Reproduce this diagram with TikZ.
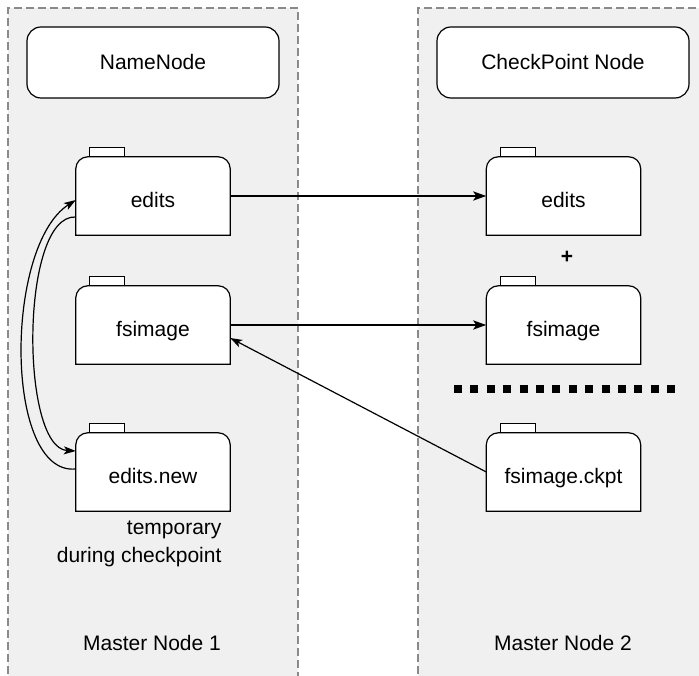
\documentclass[tikz,border=0pt]{standalone}
\usepackage{fontspec}
\setmainfont{Liberation Sans}
\usetikzlibrary{arrows.meta,backgrounds}
\definecolor{panelfill}{HTML}{F0F0F0}
\definecolor{panelline}{HTML}{8A8A8A}
\newcommand\fileshape[1]{%
  \draw[fileline] (#1.south west) -- ([yshift=-12pt]#1.north west)
    arc[start angle=180,end angle=90,radius=12pt] -- ([xshift=-12pt]#1.north east)
    arc[start angle=90,end angle=0,radius=12pt] -- (#1.south east) -- cycle;
  \draw[fileline] ([xshift=14pt]#1.north west) rectangle ([xshift=49pt,yshift=9pt]#1.north west);
}
\begin{document}
\begin{tikzpicture}[x=1pt,y=1pt,
  every node/.style={font=\fontsize{21}{28}\selectfont},
  panelborder/.style={panelline, line width=1.3pt, dash pattern=on 8pt off 4pt},
  hostbox/.style={draw, fill=white, line width=1.2pt, rounded corners=14pt, minimum width=252pt, minimum height=71pt, inner sep=0pt},
  file/.style={minimum width=154pt, minimum height=78pt, inner sep=0pt, text height=26pt, text depth=2pt},
  fileline/.style={draw=black, fill=white, line width=1.2pt},
  bigarrow/.style={line width=2.4pt, -{Stealth[length=13pt,width=9pt,inset=3pt]}},
  thinarrow/.style={line width=1.2pt, -{Stealth[length=12pt,width=8pt,inset=3pt]}}]
\useasboundingbox (0,0) rectangle (699,676);
% nodes
\node[hostbox] (nn) at (153,613.5) {NameNode};
\node[hostbox] (cn) at (563,613.5) {CheckPoint Node};
\node[file] (e1) at (153,480) {edits};
\node[file] (f1) at (153,351) {fsimage};
\node[file] (n1) at (153,204) {edits.new};
\node[file] (e2) at (563.5,480) {edits};
\node[file] (f2) at (563.5,351) {fsimage};
\node[file] (c2) at (563.5,204) {fsimage.ckpt};
\node[font=\bfseries\fontsize{21}{25}\selectfont] (plus) at (567,419) {+};
\node[align=right, anchor=east] (tmp) at (225,132) {temporary\\during checkpoint};
\node (m1) at (152,33) {Master Node 1};
\node (m2) at (563,33) {Master Node 2};
\begin{pgfonlayer}{background}
  \begin{scope}
    \clip (0,0) rectangle (699,676);
    \fill[panelfill] (8,-10) rectangle (298,668);
    \draw[panelborder] (8,-10) -- (8,668) -- (298,668) -- (298,-10);
    \fill[panelfill] (418,-10) rectangle (710,668);
    \draw[panelborder] (418,-10) -- (418,668) -- (710,668);
  \end{scope}
  \fileshape{e1}
  \fileshape{f1}
  \fileshape{n1}
  \fileshape{e2}
  \fileshape{f2}
  \fileshape{c2}
\end{pgfonlayer}
% separator
\draw[line width=8pt, dash pattern=on 8pt off 8.4pt] (454,287) -- (678,287);
% connectors
\draw[bigarrow] (e1.east) -- (e2.west);
\draw[bigarrow] (f1.east) -- (f2.west);
\draw[thinarrow] (c2.west) -- ([yshift=-13pt]f1.east);
\draw[thinarrow] ([yshift=3pt]n1.west) .. controls (4,200) and (4,430) .. ([yshift=-4pt]e1.west);
\draw[thinarrow] ([yshift=-21pt]e1.west) .. controls (20,462) and (20,228) .. ([yshift=21pt]n1.west);
\end{tikzpicture}
\end{document}
